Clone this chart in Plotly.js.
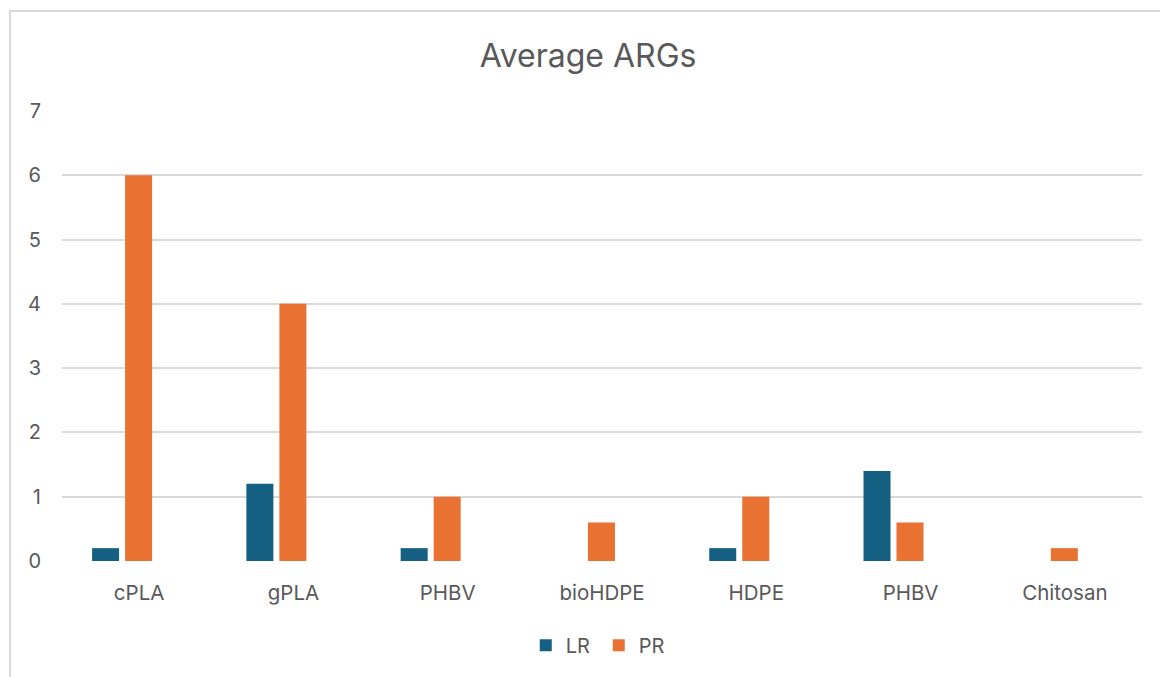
<!DOCTYPE html>
<html>
<head>
<meta charset="utf-8">
<script src="https://cdn.plot.ly/plotly-3.0.1.min.js"></script>
<style>
  html, body { margin: 0; padding: 0; background: #ffffff; }
  #frame { position: absolute; left: 9px; top: 10px; width: 1200px; height: 720px; border: 2px solid #d9d9d9; box-sizing: border-box; }
  #chart { position: absolute; left: 0; top: 0; width: 1160px; height: 677px; }
</style>
</head>
<body>
<div id="frame"></div>
<div id="chart"></div>
<script>
const categories = ["cPLA", "gPLA", "PHBV", "bioHDPE", "HDPE", "PHBV", "Chitosan"];
const lrValues = [0.2, 1.2, 0.2, 0, 0.2, 1.4, 0];
const prValues = [6, 4, 1, 0.6, 1, 0.6, 0.2];
const yTicks = [0, 1, 2, 3, 4, 5, 6, 7];

const positions = categories.map((c, i) => i);
const fontFamily = "Inter, 'Open Sans', 'Noto Sans', sans-serif";
const textColor = "#595959";

const traces = [
  {
    type: "bar", name: "LR", x: positions, y: lrValues,
    width: 0.175, offset: -0.305,
    marker: { color: "#156082" }
  },
  {
    type: "bar", name: "PR", x: positions, y: prValues,
    width: 0.175, offset: -0.091,
    marker: { color: "#E97132" }
  }
];

const layout = {
  width: 1160, height: 677,
  paper_bgcolor: "rgba(0,0,0,0)",
  plot_bgcolor: "rgba(0,0,0,0)",
  margin: { l: 62, r: 18, t: 111, b: 116 },
  font: { family: fontFamily, color: textColor, size: 20 },
  title: {
    text: "Average ARGs",
    font: { family: fontFamily, size: 32, color: textColor },
    x: 0.507, xanchor: "center", y: 0.918, yanchor: "middle"
  },
  barmode: "overlay",
  xaxis: {
    range: [-0.5, 6.5],
    tickmode: "array", tickvals: positions, ticktext: categories,
    showgrid: false, zeroline: false, showline: false,
    ticks: "", ticklabelstandoff: 17,
    tickfont: { size: 20.5, color: textColor }
  },
  yaxis: {
    range: [0, 7],
    tickmode: "array", tickvals: yTicks,
    showgrid: true, gridcolor: "#d9d9d9", gridwidth: 2,
    zeroline: false, showline: false, ticks: "",
    ticklabelstandoff: 20,
    tickfont: { size: 20, color: textColor }
  },
  showlegend: true,
  legend: {
    orientation: "h", x: 0.497, xanchor: "center", y: -0.187, yanchor: "middle",
    font: { size: 20, color: textColor }, traceorder: "normal",
    itemwidth: 30, entrywidth: 28, entrywidthmode: "pixels"
  }
};

Plotly.newPlot("chart", traces, layout, { displayModeBar: false, staticPlot: true });
</script>
</body>
</html>
